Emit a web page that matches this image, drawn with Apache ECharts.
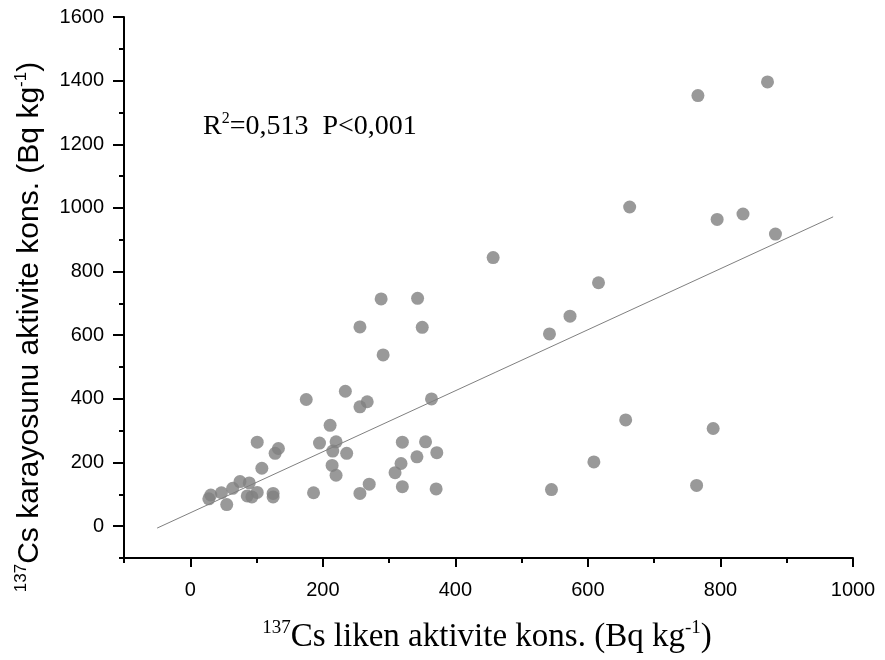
<!DOCTYPE html>
<html><head><meta charset="utf-8">
<script src="https://cdn.jsdelivr.net/npm/echarts@6/dist/echarts.min.js"></script>
<style>html,body{margin:0;padding:0;background:#fff}#c{width:885px;height:660px}</style>
</head><body><div id="c"></div>
<script>
// 137Cs liken (x) vs karayosunu (y) activity, Bq/kg
const likenX = [28, 31, 47, 55, 64, 75, 89, 86, 93, 101, 101, 108, 125, 125, 128, 133, 175, 186, 195, 211,
  214, 215, 220, 220, 234, 236, 256, 256, 256, 267, 270, 288, 291, 309, 318, 320, 320, 342, 343, 350,
  355, 364, 371, 372, 457, 542, 545, 573, 609, 616, 657, 663, 764, 766, 789, 795, 834, 871, 883];
const karayosunuY = [86, 98, 105, 68, 119, 140, 136, 95, 92, 106, 264, 182, 103, 92, 229, 244, 398, 105, 261, 317,
  191, 236, 265, 160, 424, 229, 103, 375, 626, 391, 132, 714, 538, 168, 197, 264, 124, 218, 716, 625,
  265, 400, 117, 231, 844, 604, 115, 660, 202, 765, 334, 1003, 128, 1353, 307, 964, 981, 1396, 918];
const fitLineX = [-50, 970];
const fitLineY = [-6, 972];
const xMajorTicks = [0, 200, 400, 600, 800, 1000];
const xMinorTicks = [-100, 100, 300, 500, 700, 900];
const yMajorTicks = [0, 200, 400, 600, 800, 1000, 1200, 1400, 1600];
const yMinorTicks = [-100, 100, 300, 500, 700, 900, 1100, 1300, 1500];
const statText = '{base|R}{sup|2}{base|=0,513  P<0,001}';
const xTitle = '{sup|137}{base|Cs liken aktivite kons. (Bq kg}{sup|-1}{base|)}';
const yTitle = '{sup|137}{base|Cs karayosunu aktivite kons. (Bq kg}{sup|-1}{base|)}';

const chart = echarts.init(document.getElementById('c'), null, {renderer: 'canvas'});
const gridBox = {left: 124, right: 32, top: 17, bottom: 102};
const axisLineStyle = {color: '#000', width: 2};
const tickStyle = {color: '#000', width: 2};
const plainLabel = v => String(v);
const serifRich = (size, supSize) => ({
  base: {fontFamily: 'Liberation Serif', fontSize: size, lineHeight: size + 4, color: '#000'},
  sup: {fontFamily: 'Liberation Serif', fontSize: supSize, lineHeight: 8, verticalAlign: 'top', color: '#000'}
});
const sansRich = (size, supSize) => ({
  base: {fontFamily: 'Liberation Sans', fontSize: size, lineHeight: size + 4, color: '#000'},
  sup: {fontFamily: 'Liberation Sans', fontSize: supSize, lineHeight: 8, verticalAlign: 'top', color: '#000'}
});
chart.setOption({
  animation: false,
  backgroundColor: '#fff',
  grid: [Object.assign({}, gridBox), Object.assign({}, gridBox)],
  xAxis: [{
    type: 'value', gridIndex: 0, min: -100, max: 1000,
    axisLine: {show: true, onZero: false, lineStyle: axisLineStyle},
    axisTick: {show: true, inside: false, length: 9, lineStyle: tickStyle, customValues: xMajorTicks},
    axisLabel: {customValues: xMajorTicks, formatter: plainLabel, color: '#000', fontFamily: 'Liberation Sans', fontSize: 20, margin: 22},
    splitLine: {show: false}
  }, {
    type: 'value', gridIndex: 1, min: -100, max: 1000,
    axisLine: {show: false, onZero: false},
    axisTick: {show: true, inside: false, length: 5, lineStyle: tickStyle, customValues: xMinorTicks},
    axisLabel: {show: false},
    splitLine: {show: false}
  }],
  yAxis: [{
    type: 'value', gridIndex: 0, min: -100, max: 1600,
    axisLine: {show: true, onZero: false, lineStyle: axisLineStyle},
    axisTick: {show: true, inside: false, length: 11, lineStyle: tickStyle, customValues: yMajorTicks},
    axisLabel: {customValues: yMajorTicks, formatter: plainLabel, color: '#000', fontFamily: 'Liberation Sans', fontSize: 20, margin: 20},
    splitLine: {show: false}
  }, {
    type: 'value', gridIndex: 1, min: -100, max: 1600,
    axisLine: {show: false, onZero: false},
    axisTick: {show: true, inside: false, length: 5, lineStyle: tickStyle, customValues: yMinorTicks},
    axisLabel: {show: false},
    splitLine: {show: false}
  }],
  series: [{
    type: 'line', xAxisIndex: 0, yAxisIndex: 0,
    data: fitLineX.map((x, i) => [x, fitLineY[i]]),
    showSymbol: false, symbol: 'none',
    lineStyle: {color: '#808080', width: 1}, z: 2
  }, {
    type: 'scatter', xAxisIndex: 0, yAxisIndex: 0,
    data: likenX.map((x, i) => [x, karayosunuY[i]]),
    symbol: 'circle', symbolSize: 13,
    itemStyle: {color: '#808080'}, z: 3
  }],
  graphic: [{
    type: 'text', x: 487, y: 637,
    style: {text: xTitle, rich: serifRich(33, 19), align: 'center', verticalAlign: 'middle'}
  }, {
    type: 'text', x: 30, y: 327, rotation: Math.PI / 2,
    style: {text: yTitle, rich: sansRich(30, 17), align: 'center', verticalAlign: 'middle'}
  }, {
    type: 'text', x: 203, y: 127,
    style: {text: statText, rich: serifRich(28, 16), align: 'left', verticalAlign: 'middle'}
  }]
});
</script></body></html>
